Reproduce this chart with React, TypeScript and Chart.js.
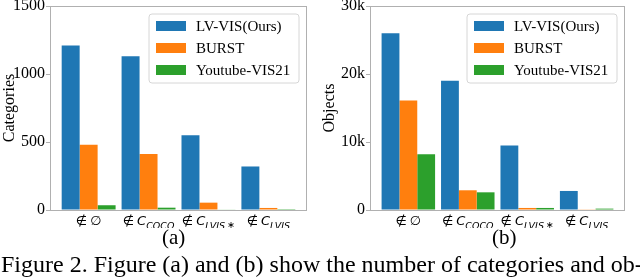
import React, { useEffect, useRef } from "react";
import { Chart, registerables } from "chart.js";

Chart.register(...registerables);

// ---- data ----
const categories = ["∉∅", "∉C_COCO", "∉C_LVIS*", "∉C_LVIS"];
const seriesNames = ["LV-VIS(Ours)", "BURST", "Youtube-VIS21"];
const seriesColors = ["#1f77b4", "#ff7f0e", "#2ca02c"];

const lvvisCategories = [1210, 1130, 550, 320];
const burstCategories = [480, 412, 54, 15];
const ytvisCategories = [35, 17, 3, 1];

const lvvisObjects = [26000, 19000, 9500, 2800];
const burstObjects = [16100, 2900, 300, 100];
const ytvisObjects = [8200, 2600, 300, 200];

const categoryTicks = [0, 500, 1000, 1500];
const categoryTickLabels = ["0", "500", "1000", "1500"];
const objectTicks = [0, 10000, 20000, 30000];
const objectTickLabels = ["0", "10k", "20k", "30k"];

const SERIF = "'Liberation Serif', 'Times New Roman', serif";
const MATH = "'DejaVu Sans', sans-serif";
const FRAME = "#b0b0b0";

function drawMathLabel(ctx: CanvasRenderingContext2D, label: string, cx: number, baseline: number) {
  const [main, sub] = label.split("_");
  const first = main.charAt(0);
  const rest = main.slice(1);
  const mainSize = 13;
  const subSize = 9.5;
  const gap = 3;
  ctx.save();
  ctx.fillStyle = "#000";
  ctx.textBaseline = "alphabetic";
  ctx.textAlign = "left";
  ctx.font = `${mainSize}px ${MATH}`;
  const w1 = ctx.measureText(first).width;
  ctx.font = `italic ${mainSize}px ${MATH}`;
  const w2 = ctx.measureText(rest).width;
  let subMain = sub || "";
  let star = "";
  if (subMain.endsWith("*")) {
    subMain = subMain.slice(0, -1);
    star = "∗";
  }
  let w3 = 0;
  let w4 = 0;
  if (subMain) {
    ctx.font = `italic ${subSize}px ${MATH}`;
    w3 = ctx.measureText(subMain).width;
  }
  if (star) {
    ctx.font = `${subSize}px ${MATH}`;
    w4 = ctx.measureText(star).width + 2;
  }
  const total = w1 + gap + w2 + w3 + w4;
  let x = cx - total / 2;
  ctx.font = `${mainSize}px ${MATH}`;
  ctx.fillText(first, x, baseline);
  x += w1 + gap;
  ctx.font = `italic ${mainSize}px ${MATH}`;
  ctx.fillText(rest, x, baseline);
  x += w2;
  if (subMain) {
    ctx.font = `italic ${subSize}px ${MATH}`;
    ctx.fillText(subMain, x, baseline + 4);
    x += w3;
  }
  if (star) {
    ctx.font = `${subSize}px ${MATH}`;
    ctx.fillText(star, x + 2, baseline + 3);
  }
  ctx.restore();
}

const decorPlugin = {
  id: "decor",
  afterDatasetsDraw(chart: any) {
    const { ctx, chartArea } = chart;
    ctx.save();
    ctx.strokeStyle = FRAME;
    ctx.lineWidth = 1;
    ctx.strokeRect(
      Math.round(chartArea.left) + 0.5,
      Math.round(chartArea.top) + 0.5,
      Math.round(chartArea.right - chartArea.left) - 1,
      Math.round(chartArea.bottom - chartArea.top)
    );
    ctx.restore();
  },
  afterDraw(chart: any) {
    const { ctx, chartArea } = chart;
    const xScale = chart.scales.x;
    categories.forEach((c, i) => {
      drawMathLabel(ctx, c, xScale.getPixelForValue(i), chartArea.bottom + 15);
    });
    // legend
    const bw = 150;
    const bh = 69;
    const bx = chartArea.right - 8 - bw;
    const by = chartArea.top + 8;
    ctx.save();
    ctx.beginPath();
    const r = 3;
    ctx.moveTo(bx + r, by);
    ctx.lineTo(bx + bw - r, by);
    ctx.quadraticCurveTo(bx + bw, by, bx + bw, by + r);
    ctx.lineTo(bx + bw, by + bh - r);
    ctx.quadraticCurveTo(bx + bw, by + bh, bx + bw - r, by + bh);
    ctx.lineTo(bx + r, by + bh);
    ctx.quadraticCurveTo(bx, by + bh, bx, by + bh - r);
    ctx.lineTo(bx, by + r);
    ctx.quadraticCurveTo(bx, by, bx + r, by);
    ctx.closePath();
    ctx.fillStyle = "rgba(255,255,255,0.8)";
    ctx.fill();
    ctx.strokeStyle = "#d6d6d6";
    ctx.lineWidth = 1;
    ctx.stroke();
    chart.data.datasets.forEach((ds: any, i: number) => {
      const cy = by + 12 + i * 22;
      ctx.fillStyle = ds.backgroundColor;
      ctx.fillRect(bx + 7, cy - 5, 30, 10);
      ctx.fillStyle = "#000";
      ctx.font = `15px ${SERIF}`;
      ctx.textBaseline = "middle";
      ctx.textAlign = "left";
      ctx.fillText(ds.label, bx + 47, cy + 1);
    });
    ctx.restore();
  },
};

type PanelProps = {
  series: number[][];
  yTitle: string;
  ticks: number[];
  tickLabels: string[];
  rightPad: number;
};

function Panel({ series, yTitle, ticks, tickLabels, rightPad }: PanelProps) {
  const ref = useRef<HTMLCanvasElement | null>(null);
  useEffect(() => {
    if (!ref.current) return;
    const chart = new Chart(ref.current, {
      type: "bar",
      data: {
        datasets: series.map((vals, s) => ({
          label: seriesNames[s],
          data: vals.map((v, i) => ({ x: i, y: v })),
          backgroundColor: seriesColors[s],
          borderWidth: 0,
          categoryPercentage: 0.9,
          barPercentage: 1.0,
        })),
      },
      options: {
        responsive: false,
        animation: false,
        layout: { padding: { top: 6, right: rightPad, bottom: 18, left: 0 } },
        plugins: { legend: { display: false }, tooltip: { enabled: false } },
        scales: {
          x: {
            type: "linear",
            display: false,
            offset: false,
            min: -0.645,
            max: 3.645,
          },
          y: {
            min: 0,
            max: ticks[ticks.length - 1],
            afterBuildTicks: (scale: any) => {
              scale.ticks = ticks.map((v) => ({ value: v }));
            },
            afterFit: (scale: any) => {
              scale.width = 50;
              scale.paddingTop = 0;
              scale.paddingBottom = 0;
            },
            border: { display: false },
            grid: {
              display: true,
              drawOnChartArea: false,
              drawTicks: true,
              tickLength: 4,
              color: FRAME,
            },
            ticks: {
              padding: 1,
              color: "#000",
              font: { family: SERIF, size: 16 },
              callback: (v: any) => {
                const idx = ticks.indexOf(Number(v));
                return idx >= 0 ? tickLabels[idx] : "";
              },
            },
            title: {
              display: true,
              text: yTitle,
              color: "#000",
              font: { family: SERIF, size: 16, lineHeight: 1 },
              padding: { top: 2, bottom: 0 },
            },
          },
        },
      },
      plugins: [decorPlugin],
    });
    return () => chart.destroy();
  }, []);
  return <canvas ref={ref} width={320} height={228} style={{ width: 320, height: 228, display: "block" }} />;
}

export default function App() {
  return (
    <div style={{ position: "absolute", left: 0, top: 0, width: 640, height: 279, background: "#fff", overflow: "hidden" }}>
      <div style={{ position: "absolute", left: 0, top: 0 }}>
        <Panel
          series={[lvvisCategories, burstCategories, ytvisCategories]}
          yTitle="Categories"
          ticks={categoryTicks}
          tickLabels={categoryTickLabels}
          rightPad={13}
        />
      </div>
      <div style={{ position: "absolute", left: 320, top: 0 }}>
        <Panel
          series={[lvvisObjects, burstObjects, ytvisObjects]}
          yTitle="Objects"
          ticks={objectTicks}
          tickLabels={objectTickLabels}
          rightPad={15}
        />
      </div>
      <div style={{ position: "absolute", left: 162, top: 227, font: `21px/1 ${SERIF}`, whiteSpace: "nowrap" }}>(a)</div>
      <div style={{ position: "absolute", left: 492, top: 227, font: `21px/1 ${SERIF}`, whiteSpace: "nowrap" }}>(b)</div>
      <div style={{ position: "absolute", left: 1, top: 252, font: `24px/1 ${SERIF}`, whiteSpace: "nowrap" }}>
        Figure 2. Figure (a) and (b) show the number of categories and ob-
      </div>
    </div>
  );
}
